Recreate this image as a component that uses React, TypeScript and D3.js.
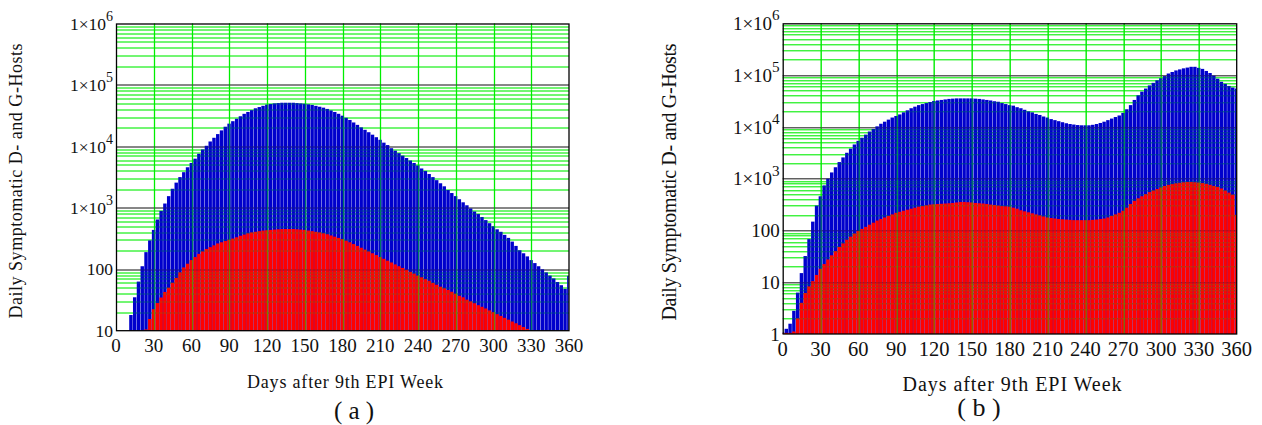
import React, { useEffect, useRef } from "react";
import * as d3 from "d3";

// one bar every 3 days, 0..360
const days = d3.range(0, 361, 3);

// panel (a)
const blueA = [
  2, 3, 5, 9, 18, 35, 63, 112, 190, 295,
  437, 646, 891, 1175, 1549, 2042, 2570, 3162, 3802, 4571,
  5370, 6310, 7586, 8913, 10230, 12020, 13800, 15850, 18200, 20890,
  23440, 25700, 28180, 30900, 33880, 36310, 38900, 41690, 43650, 45710,
  47860, 48980, 50120, 50700, 51300, 51300, 51300, 51300, 50700, 50100,
  49500, 48400, 47300, 45700, 44200, 42700, 40700, 38500, 36300, 33900,
  31600, 29200, 26900, 24500, 22400, 20400, 18600, 17000, 15500, 14100,
  12800, 11500, 10500, 9330, 8510, 7760, 7080, 6460, 5890, 5370,
  4900, 4370, 3980, 3550, 3160, 2820, 2510, 2240, 1950, 1740,
  1550, 1380, 1230, 1100, 977, 871, 794, 708, 631, 562,
  501, 447, 407, 363, 324, 282, 240, 204, 182, 162,
  141, 126, 112, 100, 89, 79, 71, 62, 55, 48,
  78,
];

const redA = [
  1, 1, 2, 3, 4, 5, 7, 9, 10.5, 15.5,
  22.4, 28.2, 34.7, 42.7, 50.1, 60.3, 72.4, 89.1, 107, 123,
  141, 158, 178, 195, 214, 229, 245, 263, 275, 288,
  302, 316, 331, 351, 367, 385, 398, 407, 417, 427,
  432, 437, 442, 447, 452, 452, 452, 452, 447, 442,
  437, 427, 417, 407, 398, 385, 372, 355, 339, 324,
  309, 292, 275, 257, 240, 224, 209, 195, 182, 170,
  158, 148, 138, 129, 120, 112, 105, 98, 91, 85,
  79, 74, 69, 65, 60, 56, 52, 49, 46, 43,
  40, 37, 35, 32, 30, 28, 26, 24.5, 23, 21.4,
  20, 18.6, 17.4, 16.2, 15.1, 14.1, 13.2, 12.3, 11.5, 10.7,
  10, 9, 8, 7.5, 7, 6.5, 6, 5.5, 5, 4.7,
  4.4,
];

// panel (b)
const blueB = [
  1.07, 1.26, 1.58, 2.8, 6.3, 15, 32, 68, 148, 302,
  457, 741, 1000, 1318, 1660, 2089, 2570, 3162, 3802, 4571,
  5370, 6166, 7079, 8128, 9120, 10230, 11480, 12590, 13800, 15140,
  16220, 17380, 19050, 20890, 22910, 24550, 26300, 27540, 28840, 30200,
  31620, 32360, 33110, 33880, 34670, 35080, 35480, 35480, 35480, 35480,
  35480, 35080, 34670, 33880, 33110, 32360, 31260, 30550, 28840, 27540,
  26300, 25700, 23990, 22910, 21380, 19950, 19050, 17780, 16980, 15850,
  15140, 14130, 13490, 12880, 12300, 11750, 11350, 11090, 10840, 10720,
  10720, 10720, 10960, 11350, 11890, 12590, 13490, 14450, 15490, 16600,
  18620, 21880, 26300, 33110, 40740, 47860, 54950, 63100, 70790, 79430,
  87100, 95500, 107200, 114800, 123000, 128800, 134900, 139600, 144500, 144500,
  138000, 131800, 120200, 109600, 97700, 85100, 74100, 67600, 61700, 57500,
  55000,
];

const redB = [
  1.05, 1.05, 1.05, 1.12, 2.0, 4.0, 6.2, 8.3, 10.5, 13.8,
  18.2, 22.4, 27.5, 33.1, 39.8, 47.9, 56.2, 66.1, 75.9, 87.1,
  97.7, 107, 117, 129, 141, 155, 166, 178, 191, 204,
  219, 229, 240, 251, 263, 275, 288, 295, 305, 316,
  320, 324, 327, 331, 335, 339, 347, 355, 355, 351,
  347, 339, 335, 331, 324, 316, 309, 302, 295, 292,
  288, 275, 263, 245, 234, 224, 214, 204, 195, 186,
  178, 174, 170, 166, 164, 162, 160, 158, 158, 158,
  158, 158, 160, 162, 166, 170, 178, 191, 204, 219,
  240, 275, 324, 372, 417, 457, 501, 550, 589, 631,
  676, 724, 759, 785, 813, 832, 851, 861, 861, 851,
  841, 822, 794, 759, 724, 692, 646, 589, 537, 490,
  200,
];

const xTicks = d3.range(0, 361, 30);
const yTicksA = [10, 100, 1e3, 1e4, 1e5, 1e6];
const yTicksB = [1, 10, 100, 1e3, 1e4, 1e5, 1e6];

const xTitle = "Days after 9th EPI Week";
const yTitle = "Daily Symptomatic D- and G-Hosts";

const FONT = "'Liberation Serif', 'Times New Roman', serif";
const GREEN = "#00ee00";
const BLUE = "#0000cc";
const RED = "#ff0000";

const panels = [
  {
    tag: "( a )", left: 116, top: 23.5, width: 453, height: 307.2,
    yTicks: yTicksA, blue: blueA, red: redA,
    yFont: 17.5, xFont: 19, titleFont: 18,
    xLabelY: 352, xTitleX: 345, xTitleY: 388, xTitleLen: 196,
    yTitleX: 22, yTitleY: 181, yTitleLen: 275,
    tagX: 354, tagY: 419, tagFont: 25,
  },
  {
    tag: "( b )", left: 782.7, top: 23.3, width: 454, height: 310.7,
    yTicks: yTicksB, blue: blueB, red: redB,
    yFont: 19, xFont: 20.5, titleFont: 20,
    xLabelY: 356, xTitleX: 1012, xTitleY: 391, xTitleLen: 219,
    yTitleX: 676, yTitleY: 182, yTitleLen: 277,
    tagX: 979, tagY: 416, tagFont: 26,
  },
];

const App: React.FC = () => {
  const svgRef = useRef<SVGSVGElement>(null);

  useEffect(() => {
    if (!svgRef.current) return;
    const svg = d3.select(svgRef.current);
    svg.selectAll("*").remove();

    svg.append("rect").attr("width", 1262).attr("height", 425).attr("fill", "#fff");

    panels.forEach((p) => {
      const x = d3.scaleLinear().domain([0, 360]).range([0, p.width]);
      const yMin = p.yTicks[0];
      const y = d3
        .scaleLog()
        .domain([yMin, 1e6])
        .range([p.height, 0])
        .clamp(true);

      const g = svg
        .append("g")
        .attr("transform", `translate(${p.left},${p.top})`);

      // minor log lines 2..9 per decade
      const minors: number[] = [];
      p.yTicks.slice(0, -1).forEach((dec) => {
        for (let k = 2; k <= 9; k++) minors.push(dec * k);
      });
      const majors = p.yTicks.slice(1, -1);
      const vlines = xTicks.slice(1, -1);

      const drawGrid = (layer: d3.Selection<SVGGElement, unknown, null, undefined>, op: number, majOp: number) => {
        layer
          .selectAll(".minor")
          .data(minors)
          .enter()
          .append("line")
          .attr("x1", 0)
          .attr("x2", p.width)
          .attr("y1", (d) => Math.round(y(d)) + 0.5)
          .attr("y2", (d) => Math.round(y(d)) + 0.5)
          .attr("stroke", GREEN)
          .attr("stroke-opacity", op);
        layer
          .selectAll(".vline")
          .data(vlines)
          .enter()
          .append("line")
          .attr("x1", (d) => Math.round(x(d)) + 0.5)
          .attr("x2", (d) => Math.round(x(d)) + 0.5)
          .attr("y1", 0)
          .attr("y2", p.height)
          .attr("stroke", GREEN)
          .attr("stroke-width", 1.2)
          .attr("stroke-opacity", Math.min(1, op * 2.5));
        layer
          .selectAll(".major")
          .data(majors)
          .enter()
          .append("line")
          .attr("x1", 0)
          .attr("x2", p.width)
          .attr("y1", (d) => Math.round(y(d)) + 0.5)
          .attr("y2", (d) => Math.round(y(d)) + 0.5)
          .attr("stroke", "#333")
          .attr("stroke-opacity", majOp);
      };

      drawGrid(g.append("g"), 1, 1);

      // bars
      const barRect = (d: number) => {
        const x0 = Math.max(0, x(d - 1.5));
        const x1 = Math.min(p.width, x(d + 1.5));
        return { x0, w: Math.max(0, x1 - x0 - 0.35) };
      };
      const drawBars = (vals: number[], color: string) => {
        g.append("g")
          .selectAll("rect")
          .data(days)
          .enter()
          .append("rect")
          .attr("x", (d) => barRect(d).x0)
          .attr("width", (d) => barRect(d).w)
          .attr("y", (_, i) => y(vals[i]))
          .attr("height", (_, i) => p.height - y(vals[i]))
          .attr("fill", color);
      };
      drawBars(p.blue, BLUE);
      drawBars(p.red, RED);

      // grid faintly visible through the bars
      drawGrid(g.append("g"), 0.2, 0.35);

      // frame
      g.append("rect")
        .attr("x", 0.5)
        .attr("y", 0.5)
        .attr("width", p.width - 0.5)
        .attr("height", p.height - 0.5)
        .attr("fill", "none")
        .attr("stroke", "#000")
        .attr("stroke-width", 1.3);

      // y tick labels
      p.yTicks.forEach((v) => {
        const t = g
          .append("text")
          .attr("x", -3)
          .attr("y", y(v))
          .attr("dy", "0.35em")
          .attr("text-anchor", "end")
          .attr("font-family", FONT)
          .attr("font-size", p.yFont)
          .attr("fill", "#111");
        if (v < 1000) {
          t.text(String(v));
        } else {
          t.append("tspan").text("1\u00d710");
          t.append("tspan")
            .attr("dy", -p.yFont * 0.5)
            .attr("font-size", p.yFont * 0.8)
            .text(String(Math.round(Math.log10(v))));
        }
      });

      // x tick labels
      g.selectAll(".xl")
        .data(xTicks)
        .enter()
        .append("text")
        .attr("x", (d) => x(d))
        .attr("y", p.xLabelY - p.top)
        .attr("text-anchor", "middle")
        .attr("font-family", FONT)
        .attr("font-size", p.xFont)
        .attr("fill", "#111")
        .text((d) => String(d));

      // titles
      svg
        .append("text")
        .attr("x", p.xTitleX)
        .attr("y", p.xTitleY)
        .attr("text-anchor", "middle")
        .attr("font-family", FONT)
        .attr("font-size", p.titleFont)
        .attr("textLength", p.xTitleLen)
        .attr("fill", "#111")
        .text(xTitle);

      svg
        .append("text")
        .attr("transform", `translate(${p.yTitleX},${p.yTitleY}) rotate(-90)`)
        .attr("text-anchor", "middle")
        .attr("font-family", FONT)
        .attr("font-size", p.titleFont)
        .attr("textLength", p.yTitleLen)
        .attr("fill", "#111")
        .text(yTitle);

      svg
        .append("text")
        .attr("x", p.tagX)
        .attr("y", p.tagY)
        .attr("text-anchor", "middle")
        .attr("font-family", FONT)
        .attr("font-size", p.tagFont)
        .attr("fill", "#111")
        .text(p.tag);
    });
  }, []);

  return (
    <div style={{ position: "absolute", left: 0, top: 0 }}>
      <svg ref={svgRef} width={1262} height={425} style={{ display: "block" }} />
    </div>
  );
};

export default App;
